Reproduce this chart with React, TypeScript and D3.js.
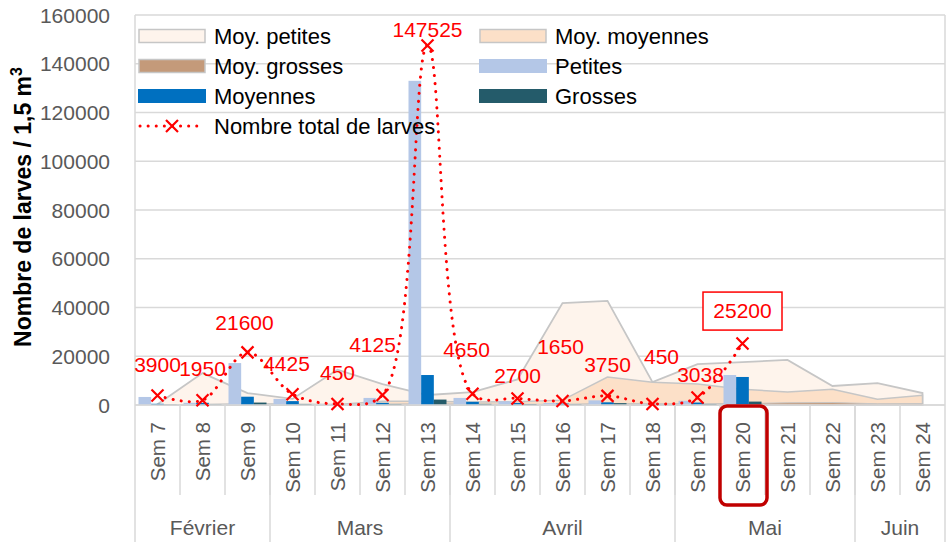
import React from 'react';
import * as d3 from 'd3';

const weeks = ['Sem 7','Sem 8','Sem 9','Sem 10','Sem 11','Sem 12','Sem 13','Sem 14','Sem 15','Sem 16','Sem 17','Sem 18','Sem 19','Sem 20','Sem 21','Sem 22','Sem 23','Sem 24'];
const months = [
  { name: 'Février', from: 'Sem 7', to: 'Sem 9' },
  { name: 'Mars', from: 'Sem 10', to: 'Sem 13' },
  { name: 'Avril', from: 'Sem 14', to: 'Sem 18' },
  { name: 'Mai', from: 'Sem 19', to: 'Sem 22' },
  { name: 'Juin', from: 'Sem 23', to: 'Sem 24' },
];

const moyPetites = [300, 13100, 4900, 2500, 14500, 8600, 4100, 5300, 10500, 41800, 42700, 9400, 16800, 17600, 18500, 7800, 9000, 4900];
const moyMoyennes = [0, 200, 500, 300, 200, 1500, 1500, 1200, 1300, 2000, 11500, 9300, 8600, 6500, 5300, 6500, 2400, 4000];
const moyGrosses = [0, 100, 300, 200, 100, 400, 500, 400, 300, 300, 600, 500, 500, 600, 900, 1000, 500, 600];

const petites = [3300, 900, 17200, 2500, 250, 2900, 133000, 2900, 1500, 800, 1900, 200, 1700, 12300];
const moyennes = [500, 900, 3400, 1600, 150, 900, 12300, 1300, 800, 600, 1100, 150, 1000, 11500];
const grosses = [100, 150, 1000, 325, 50, 325, 2225, 450, 400, 250, 750, 100, 338, 1400];
const totals = [3900, 1950, 21600, 4425, 450, 4125, 147525, 4650, 2700, 1650, 3750, 450, 3038, 25200];

const yTicks = [0, 20000, 40000, 60000, 80000, 100000, 120000, 140000, 160000];

// label placement offsets (layout only)
const labelOffsets: [number, number][] = [
  [0, -31], [0, -32], [-3, -30], [-6, -31], [0, -31], [-10, -51], [0, -16],
  [-6, -44], [0, -23], [-2, -55], [0, -31], [9, -47], [3, -23], [0, -33],
];
const highlightWeek = 'Sem 20';
const boxedLabelWeek = 'Sem 20';

const W = 947, H = 542;
const FONT = '"Liberation Sans", Arial, sans-serif';
const C = {
  grid: '#D9D9D9', text: '#595959', red: '#FF0000',
  petites: '#B4C7E7', moyennes: '#0070C0', grosses: '#245B6A',
  aPet: '#FEF4EC', aMoy: '#FCE0C8', aGro: '#C49A7A', aStroke: '#C6C6C6',
};

export default function App() {
  const x = d3.scaleBand<string>().domain(weeks).range([135, 945]).padding(0);
  const bw = x.bandwidth();
  const cx = (w: string) => (x(w) as number) + bw / 2;
  const y = d3.scaleLinear().domain([0, 160000]).range([405, 15]);
  const inner = d3.scaleBand<string>().domain(['p', 'm', 'g']).range([3.5, 41.5]).padding(0);

  const areaGen = (vals: number[]) =>
    d3.area<number>().x((_, i) => cx(weeks[i])).y0(y(0)).y1((d) => y(d))(vals) as string;

  const lineGen = d3.line<number>().x((_, i) => cx(weeks[i])).y((d) => y(d)).curve(d3.curveCatmullRom.alpha(0.5));

  const cross = (px: number, py: number, s = 6, key?: any) => (
    <path key={key} d={`M${px - s},${py - s}L${px + s},${py + s}M${px - s},${py + s}L${px + s},${py - s}`} stroke={C.red} strokeWidth={2.2} fill="none" />
  );

  const legendItems = [
    { label: 'Moy. petites', type: 'area', fill: C.aPet, col: 0, row: 0 },
    { label: 'Moy. moyennes', type: 'area', fill: C.aMoy, col: 1, row: 0 },
    { label: 'Moy. grosses', type: 'area', fill: C.aGro, col: 0, row: 1 },
    { label: 'Petites', type: 'bar', fill: C.petites, col: 1, row: 1 },
    { label: 'Moyennes', type: 'bar', fill: C.moyennes, col: 0, row: 2 },
    { label: 'Grosses', type: 'bar', fill: C.grosses, col: 1, row: 2 },
    { label: 'Nombre total de larves', type: 'line', fill: C.red, col: 0, row: 3 },
  ];
  const legX = [138, 479];
  const legY = (r: number) => 36 + r * 30;

  return (
    <svg width={W} height={H} style={{ position: 'absolute', left: 0, top: 0, background: '#fff' }} fontFamily={FONT}>
      <rect width={W} height={H} fill="#fff" />
      {/* gridlines */}
      {yTicks.map((t) => (
        <line key={t} x1={135} x2={945} y1={y(t)} y2={y(t)} stroke={C.grid} strokeWidth={1.5} />
      ))}
      <line x1={945} x2={945} y1={y(160000)} y2={405} stroke={C.grid} strokeWidth={1.5} />
      {/* areas */}
      <path d={areaGen(moyPetites)} fill={C.aPet} stroke={C.aStroke} strokeWidth={1.8} />
      <path d={areaGen(moyMoyennes)} fill={C.aMoy} stroke={C.aStroke} strokeWidth={1.5} />
      <path d={areaGen(moyGrosses)} fill={C.aGro} stroke={C.aStroke} strokeWidth={1} />
      {/* bars */}
      {petites.map((v, i) => {
        const x0 = x(weeks[i]) as number;
        return (
          <g key={i}>
            <rect x={x0 + (inner('p') as number)} width={inner.bandwidth()} y={y(v)} height={y(0) - y(v)} fill={C.petites} />
            <rect x={x0 + (inner('m') as number)} width={inner.bandwidth()} y={y(moyennes[i])} height={y(0) - y(moyennes[i])} fill={C.moyennes} />
            <rect x={x0 + (inner('g') as number)} width={inner.bandwidth()} y={y(grosses[i])} height={y(0) - y(grosses[i])} fill={C.grosses} />
          </g>
        );
      })}
      {/* axes lines */}
      <line x1={135} x2={135} y1={y(160000)} y2={542} stroke={C.grid} strokeWidth={1.5} />
      <line x1={135} x2={945} y1={405} y2={405} stroke={C.grid} strokeWidth={1.5} />
      {weeks.map((w, i) => i > 0 ? (
        <line key={w} x1={x(w)} x2={x(w)} y1={405} y2={495} stroke={C.grid} strokeWidth={1.5} />
      ) : null)}
      {months.map((m) => (
        <line key={m.name} x1={(x(m.to) as number) + bw} x2={(x(m.to) as number) + bw} y1={405} y2={542} stroke={C.grid} strokeWidth={1.5} />
      ))}
      {/* total line */}
      <path d={lineGen(totals) as string} fill="none" stroke={C.red} strokeWidth={3} strokeDasharray="0.1 8" strokeLinecap="round" />
      {totals.map((v, i) => cross(cx(weeks[i]), y(v), 6, i))}
      {totals.map((v, i) => {
        const px = cx(weeks[i]) + labelOffsets[i][0];
        const py = y(v) + labelOffsets[i][1];
        return (
          <g key={'l' + i}>
            {weeks[i] === boxedLabelWeek && (
              <rect x={px - 39.5} y={py - 18.5} width={79} height={38} fill="#fff" stroke={C.red} strokeWidth={1.5} />
            )}
            <text x={px} y={py} dy="0.36em" textAnchor="middle" fontSize={21} fill={C.red}>{v}</text>
          </g>
        );
      })}
      {/* y tick labels */}
      {yTicks.map((t) => (
        <text key={t} x={110} y={y(t)} dy="0.36em" textAnchor="end" fontSize={21} fill={C.text}>{t}</text>
      ))}
      <text transform={`translate(31,207) rotate(-90)`} textAnchor="middle" fontSize={23} fontWeight="bold" fill="#000">
        Nombre de larves / 1,5 m<tspan fontSize={16} dy={-9}>3</tspan>
      </text>
      {/* week labels */}
      {weeks.map((w) => (
        <text key={w} transform={`translate(${cx(w)},422) rotate(-90)`} dy="0.36em" textAnchor="end" fontSize={20.5} fill={C.text}>{w}</text>
      ))}
      {months.map((m) => {
        const a = x(m.from) as number;
        const b = (x(m.to) as number) + bw;
        return (
          <text key={m.name} x={(a + b) / 2} y={527} dy="0.36em" textAnchor="middle" fontSize={21} fill={C.text}>{m.name}</text>
        );
      })}
      {/* highlight */}
      <rect x={(x(highlightWeek) as number)} y={406} width={bw + 2} height={99} rx={7} fill="none" stroke="#C00000" strokeWidth={3.5} />
      {/* legend */}
      {legendItems.map((it) => {
        const lx = legX[it.col];
        const ly = legY(it.row);
        return (
          <g key={it.label}>
            {it.type === 'area' && <rect x={lx + 1} y={ly - 6.5} width={66} height={13} fill={it.fill} stroke={C.aStroke} strokeWidth={1.5} />}
            {it.type === 'bar' && <rect x={lx} y={ly - 7} width={68} height={14} fill={it.fill} />}
            {it.type === 'line' && (
              <g>
                <line x1={lx + 2} x2={lx + 66} y1={ly} y2={ly} stroke={C.red} strokeWidth={3} strokeDasharray="0.1 8" strokeLinecap="round" />
                {cross(lx + 34, ly, 6)}
              </g>
            )}
            <text x={lx + 76} y={ly} dy="0.36em" fontSize={22} fill="#000">{it.label}</text>
          </g>
        );
      })}
    </svg>
  );
}
